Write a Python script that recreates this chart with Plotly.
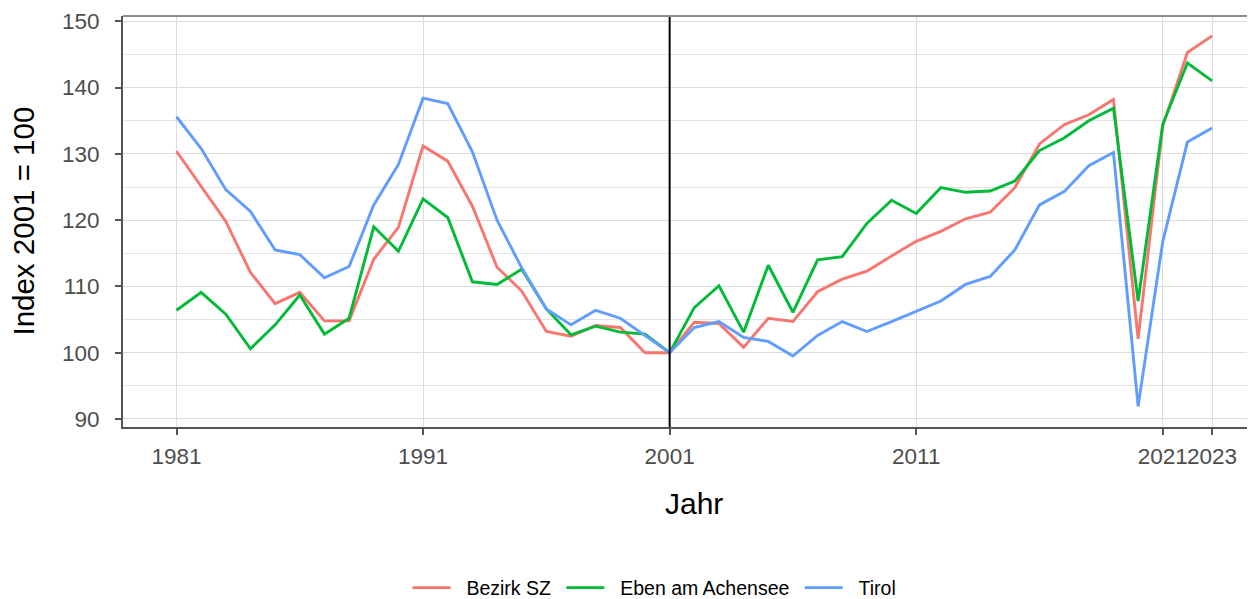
import plotly.graph_objects as go

years = list(range(1981, 2024))

bezirk_sz = [130.4, 125.1, 119.8, 112.1, 107.4, 109.1, 104.8, 104.8, 114.1, 118.9,
             131.2, 128.9, 122.1, 112.9, 109.3, 103.2, 102.5, 104.1, 103.8, 100.0,
             100.0, 104.6, 104.4, 100.8, 105.2, 104.7, 109.2, 111.1, 112.3, 114.6,
             116.8, 118.3, 120.2, 121.2, 124.9, 131.5, 134.4, 135.9, 138.2, 102.1,
             134.2, 145.3, 147.8]

eben = [106.4, 109.1, 105.8, 100.6, 104.2, 108.7, 102.8, 105.2, 119.0, 115.3,
        123.2, 120.4, 110.7, 110.3, 112.6, 106.6, 102.7, 104.0, 103.1, 102.8,
        100.0, 106.8, 110.1, 103.1, 113.2, 106.1, 114.0, 114.5, 119.5, 123.0,
        121.0, 124.9, 124.2, 124.4, 125.9, 130.5, 132.4, 135.0, 136.9, 107.8,
        134.5, 143.7, 141.0]

tirol = [135.6, 130.8, 124.6, 121.3, 115.5, 114.8, 111.3, 113.0, 122.3, 128.4,
         138.4, 137.6, 130.3, 120.0, 112.8, 106.6, 104.2, 106.4, 105.2, 102.6,
         100.0, 103.8, 104.7, 102.3, 101.7, 99.5, 102.6, 104.7, 103.2, 104.7,
         106.3, 107.8, 110.3, 111.5, 115.5, 122.3, 124.3, 128.2, 130.2, 91.9,
         116.8, 131.8, 133.9]

series_names = ["Bezirk SZ", "Eben am Achensee", "Tirol"]
series_colors = ["#F8766D", "#00BA38", "#619CFF"]
x_ticks = [1981, 1991, 2001, 2011, 2021, 2023]
y_ticks = [90, 100, 110, 120, 130, 140, 150]
y_minor = [95, 105, 115, 125, 135, 145]
ref_year = 2001

NB = "\u00a0"

fig = go.Figure()
for name, vals, col in zip(series_names, [bezirk_sz, eben, tirol], series_colors):
    fig.add_trace(go.Scatter(x=years, y=vals, mode="lines",
                             name=NB * 2 + name + NB,
                             line=dict(color=col, width=2.9)))

fig.add_shape(type="line", xref="x", yref="paper", x0=ref_year, x1=ref_year,
              y0=0, y1=1, line=dict(color="black", width=2))

fig.update_layout(
    width=1247, height=591,
    margin=dict(l=115, r=0, t=8, b=172, autoexpand=False),
    plot_bgcolor="white", paper_bgcolor="white",
    font=dict(family="Liberation Sans, Arial, sans-serif", color="black"),
    showlegend=True,
    legend=dict(orientation="h", x=0.2514, xanchor="left", y=-0.3917, yanchor="middle",
                font=dict(size=19.5, color="black"), itemwidth=38,
                bgcolor="rgba(0,0,0,0)"),
)

fig.update_xaxes(
    range=[1978.83, 2024.74], tickmode="array", tickvals=x_ticks,
    ticktext=[str(v) for v in x_ticks], tickangle=0,
    showgrid=True, gridcolor="#dcdcdc", gridwidth=1.2,
    showline=True, linecolor="#555555", linewidth=1.8, mirror=False,
    ticks="outside", ticklen=6, tickcolor="#555555", tickwidth=1.5,
    tickfont=dict(size=22.5, color="#4d4d4d"), ticklabelstandoff=2,
    zeroline=False, automargin=False,
)
fig.update_yaxes(
    range=[88.79, 150.8], tickmode="array", tickvals=y_ticks,
    showgrid=True, gridcolor="#dcdcdc", gridwidth=1.2,
    minor=dict(tickmode="array", tickvals=y_minor,
               showgrid=True, gridcolor="#e3e3e3", gridwidth=1.0),
    showline=True, linecolor="#555555", linewidth=1.8,
    ticks="outside", ticklen=6, tickcolor="#555555", tickwidth=1.5,
    tickfont=dict(size=22.5, color="#4d4d4d"), ticklabelstandoff=11,
    zeroline=False, automargin=False,
)
# top panel border
fig.add_shape(type="line", xref="paper", yref="paper", x0=0, x1=1, y0=1, y1=1,
              line=dict(color="#8c8c8c", width=1.8))

# axis titles
fig.add_annotation(text="Jahr", xref="paper", yref="paper", x=0.5044, y=-0.185,
                   xanchor="center", yanchor="middle", showarrow=False,
                   font=dict(size=30, color="black"))
fig.add_annotation(text="Index 2001 = 100", xref="paper", yref="paper", x=-0.0883,
                   y=0.5, xanchor="center", yanchor="middle", showarrow=False,
                   textangle=-90, font=dict(size=29.5, color="black"))

fig.write_html("out.html")
